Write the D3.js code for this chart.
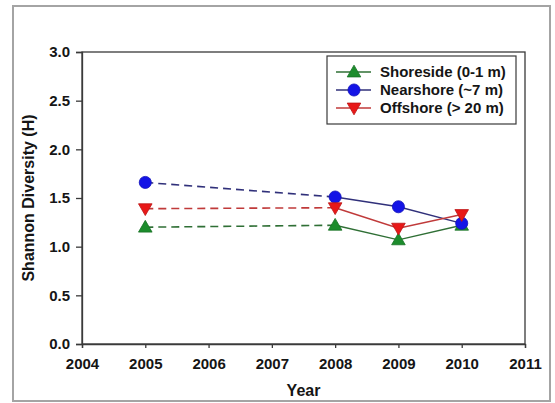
<!DOCTYPE html>
<html>
<head>
<meta charset="utf-8">
<script src="https://cdn.jsdelivr.net/npm/d3@7"></script>
<style>
  html, body { margin: 0; padding: 0; background: #fff; }
  svg { display: block; }
  text { font-family: "Liberation Sans", Arial, sans-serif; font-weight: bold; fill: #151515; }
</style>
</head>
<body>
<svg id="chart" width="555" height="403"></svg>
<script>
// Sampling years and Shannon diversity (H) per site depth
const years = [2005, 2008, 2009, 2010];
const shoreside = [1.20, 1.22, 1.07, 1.22];
const nearshore = [1.66, 1.51, 1.41, 1.24];
const offshore = [1.39, 1.40, 1.19, 1.33];
const seriesNames = ["Shoreside (0-1 m)", "Nearshore (~7 m)", "Offshore (> 20 m)"];
const xTicks = [2004, 2005, 2006, 2007, 2008, 2009, 2010, 2011];
const yTicks = [0.0, 0.5, 1.0, 1.5, 2.0, 2.5, 3.0];

const series = [
  { name: seriesNames[0], values: shoreside, marker: "up",     fill: "#1c8c2c", line: "#2f6f35" },
  { name: seriesNames[1], values: nearshore, marker: "circle", fill: "#1414e6", line: "#30307a" },
  { name: seriesNames[2], values: offshore,  marker: "down",   fill: "#e81818", line: "#c03a3a" }
];

const svg = d3.select("#chart");
const plotL = 82, plotR = 525, plotT = 52, plotB = 344;

const x = d3.scaleLinear().domain([2004, 2011]).range([plotL, plotR]);
const y = d3.scaleLinear().domain([0, 3]).range([plotB, plotT]);

// outer frame
svg.append("rect")
  .attr("x", 13).attr("y", 6).attr("width", 537).attr("height", 395)
  .attr("fill", "none").attr("stroke", "#a4a4a4").attr("stroke-width", 2);

// plot frame
svg.append("rect")
  .attr("x", plotL).attr("y", plotT).attr("width", plotR - plotL).attr("height", plotB - plotT)
  .attr("fill", "none").attr("stroke", "#3a3a3a").attr("stroke-width", 1.3);

// axes
const xAxis = svg.append("g").attr("transform", `translate(0,${plotB})`)
  .call(d3.axisBottom(x).tickValues(xTicks).tickFormat(d3.format("d")).tickSize(4).tickPadding(10));
const yAxis = svg.append("g").attr("transform", `translate(${plotL},0)`)
  .call(d3.axisLeft(y).tickValues(yTicks).tickFormat(d3.format(".1f")).tickSize(6).tickPadding(6));
[xAxis, yAxis].forEach(g => {
  g.attr("font-family", null);
  g.select(".domain").attr("stroke", "#3a3a3a").attr("stroke-width", 1.3);
  g.selectAll(".tick line").attr("stroke", "#3a3a3a").attr("stroke-width", 1.3);
  g.selectAll(".tick text").attr("font-size", 15).attr("fill", "#151515");
});

// axis titles
svg.append("text")
  .attr("x", (plotL + plotR) / 2).attr("y", 396)
  .attr("text-anchor", "middle").attr("font-size", 16)
  .text("Year");
svg.append("text")
  .attr("transform", `translate(34,${(plotT + plotB) / 2}) rotate(-90)`)
  .attr("text-anchor", "middle").attr("font-size", 16)
  .text("Shannon Diversity (H)");

const symbolFor = m => m === "circle" ? d3.symbolCircle : d3.symbolTriangle;
function drawMarker(g, m, cx, cy, fill) {
  const size = m === "circle" ? 115 : 80;
  const rot = m === "down" ? 180 : 0;
  const dy = m === "circle" ? 0 : (m === "down" ? -1 : 1);
  g.append("path")
    .attr("d", d3.symbol().type(symbolFor(m)).size(size)())
    .attr("transform", `translate(${cx},${cy + dy}) rotate(${rot})`)
    .attr("fill", fill).attr("stroke", d3.color(fill).darker(0.6)).attr("stroke-width", 0.8);
}

const line = d3.line().x(d => x(d[0])).y(d => y(d[1]));

series.forEach(s => {
  const pts = years.map((yr, i) => [yr, s.values[i]]);
  // 2005 -> 2008 gap drawn dashed, consecutive years solid
  svg.append("path").attr("d", line(pts.slice(0, 2)))
    .attr("fill", "none").attr("stroke", s.line).attr("stroke-width", 1.6)
    .attr("stroke-dasharray", "8,5");
  svg.append("path").attr("d", line(pts.slice(1)))
    .attr("fill", "none").attr("stroke", s.line).attr("stroke-width", 1.4);
});
series.forEach(s => {
  const g = svg.append("g");
  years.forEach((yr, i) => drawMarker(g, s.marker, x(yr), y(s.values[i]), s.fill));
});

// legend
const lg = svg.append("g");
lg.append("rect").attr("x", 327).attr("y", 56).attr("width", 189).attr("height", 68)
  .attr("fill", "#fff").attr("stroke", "#3a3a3a").attr("stroke-width", 1.2);
series.forEach((s, i) => {
  const cy = 72 + i * 18;
  lg.append("line").attr("x1", 336).attr("x2", 371).attr("y1", cy).attr("y2", cy)
    .attr("stroke", s.line).attr("stroke-width", 1.4);
  drawMarker(lg, s.marker, 354, cy, s.fill);
  lg.append("text").attr("x", 380).attr("y", cy + 5).attr("font-size", 15).text(s.name);
});
</script>
</body>
</html>
